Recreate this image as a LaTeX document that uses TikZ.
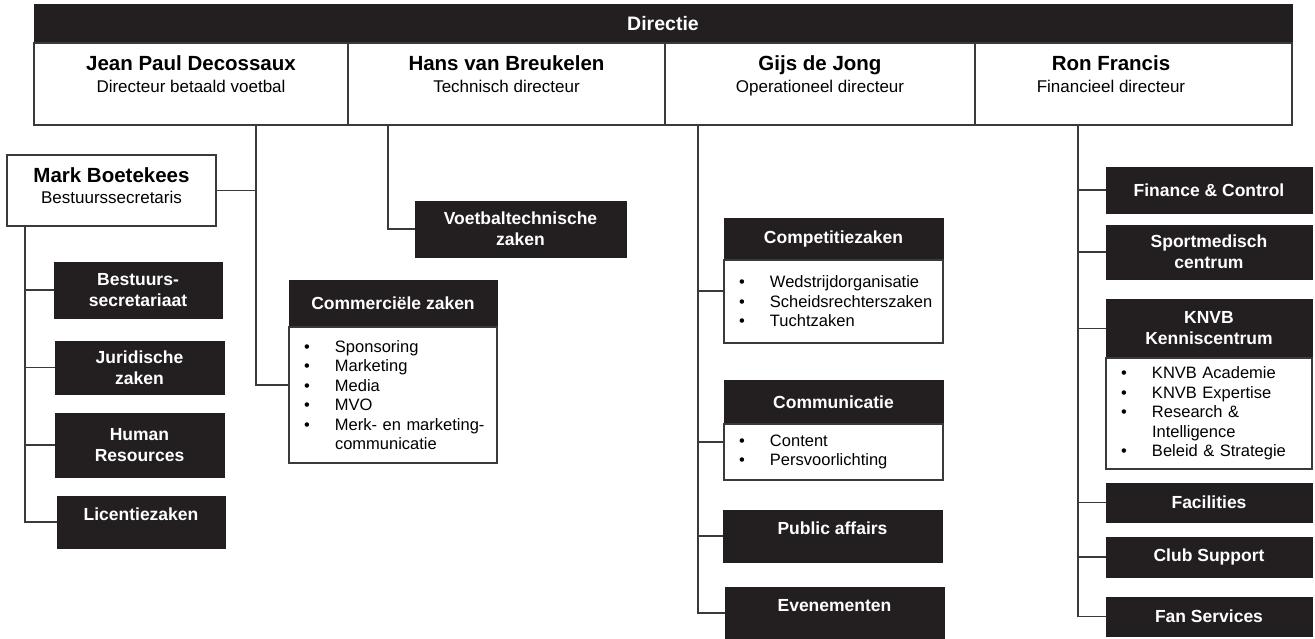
\documentclass[tikz,border=0pt]{standalone}
\usepackage{fontspec}
\setmainfont{Liberation Sans}
\definecolor{blk}{HTML}{231F20}
\definecolor{ln}{HTML}{3A3A3A}
\newcommand\bxat[7]{\node[#1, minimum width={#5-#3}, minimum height={#6-#4}] (#2) at ({(#3+#5)/2},{(#4+#6)/2}) {#7};}
\newcommand\lstat[6]{\pgfmathsetmacro\lw{#4-#2}%
  \node[lbox, minimum width=\lw pt, minimum height={#5-#3}, text width=\lw pt] (#1) at ({(#2+#4)/2},{(#3+#5)/2}) {#6};}
\newcommand\itm[1]{\hspace*{15pt}\makebox[31pt][l]{\textbullet}#1}
\begin{document}
\begin{tikzpicture}[x=1pt,y=-1pt,
  blkbox/.style={fill=blk, draw=blk, line width=0.6pt, text=white, inner sep=0pt, align=center, font=\fontsize{17.5}{21}\selectfont\bfseries},
  blktxt/.style={text=white, inner sep=0pt, align=center, font=\fontsize{17.5}{21}\selectfont\bfseries},
  wbox/.style={draw=ln, line width=1.1pt, fill=white, inner sep=0pt, align=center},
  lbox/.style={draw=ln, line width=1.1pt, fill=white, inner sep=0pt, align=left, font=\fontsize{16.5}{19.5}\selectfont},
  nmtxt/.style={inner sep=0pt, anchor=base, font=\fontsize{20.5}{23}\selectfont\bfseries},
  sbtxt/.style={inner sep=0pt, anchor=base, font=\fontsize{17}{21}\selectfont},
  conn/.style={draw=ln, line width=1.2pt}]
\useasboundingbox (0,0) rectangle (1315,638);
% header
\bxat{blkbox, font=\fontsize{19.5}{22}\selectfont\bfseries}{dir}{34}{4}{1292}{43}{Directie}
\bxat{wbox}{jp}{34}{43}{348}{125}{}
\bxat{wbox}{hv}{348}{43}{665}{125}{}
\bxat{wbox}{gj}{665}{43}{975}{125}{}
\bxat{wbox}{rf}{975}{43}{1292}{125}{}
\node[nmtxt] (jpn) at (191,70.5) {Jean Paul Decossaux};
\node[sbtxt] (jps) at (191,92) {Directeur betaald voetbal};
\node[nmtxt] (hvn) at (506.5,70.5) {Hans van Breukelen};
\node[sbtxt] (hvs) at (506.5,92) {Technisch directeur};
\node[nmtxt] (gjn) at (820,70.5) {Gijs de Jong};
\node[sbtxt] (gjs) at (820,92) {Operationeel directeur};
\node[nmtxt] (rfn) at (1111,70.5) {Ron Francis};
\node[sbtxt] (rfs) at (1111,92) {Financieel directeur};
% Mark Boetekees
\bxat{wbox}{mb}{7}{155}{216}{226}{}
\node[nmtxt] (mbn) at (111.5,182.5) {Mark Boetekees};
\node[sbtxt] (mbs) at (111.5,203.5) {Bestuurssecretaris};
\bxat{blkbox}{bs}{54}{262}{222}{318}{Bestuurs-\\secretariaat}
\bxat{blkbox}{jz}{55}{341}{224}{394}{Juridische\\zaken}
\bxat{blkbox}{hr}{55}{413}{224}{477}{Human\\Resources}
\bxat{blkbox}{lc}{57}{496}{225}{548}{}
\node[blktxt] (lct) at ([yshift=-19pt]lc.north) {Licentiezaken};
% technisch
\bxat{blkbox}{vt}{415}{201}{626}{257}{Voetbaltechnische\\zaken}
% commercieel
\bxat{blkbox}{cmh}{289}{280}{497}{327}{Commerciële zaken}
\lstat{cml}{289}{327}{497}{463}{\itm{Sponsoring}\\\itm{Marketing}\\\itm{Media}\\\itm{MVO}\\\itm{Merk- en marketing-}\\\hspace*{46pt}communicatie}
% operationeel
\bxat{blkbox}{cph}{724}{218}{943}{260}{Competitiezaken}
\lstat{cpl}{724}{260}{943}{343}{\itm{Wedstrijdorganisatie}\\\itm{Scheidsrechterszaken}\\\itm{Tuchtzaken}}
\bxat{blkbox}{coh}{724}{380}{943}{424}{Communicatie}
\lstat{col}{724}{424}{943}{480}{\itm{Content}\\\itm{Persvoorlichting}}
\bxat{blkbox}{pa}{723}{510}{942}{562}{}
\node[blktxt] (pat) at ([yshift=-19pt]pa.north) {Public affairs};
\bxat{blkbox}{ev}{725}{587}{944}{639}{}
\node[blktxt] (evt) at ([yshift=-19pt]ev.north) {Evenementen};
% financieel
\bxat{blkbox}{fc}{1106}{167}{1312}{213}{Finance \& Control}
\bxat{blkbox}{sm}{1106}{225}{1312}{279}{Sportmedisch\\centrum}
\bxat{blkbox}{knh}{1106}{299}{1312}{358}{KNVB\\Kenniscentrum}
\lstat{knl}{1106}{358}{1312}{469}{\itm{KNVB Academie}\\\itm{KNVB Expertise}\\\itm{Research \&}\\\hspace*{46pt}Intelligence\\\itm{Beleid \& Strategie}}
\bxat{blkbox}{fa}{1106}{483}{1312}{522}{Facilities}
\bxat{blkbox}{cs}{1106}{537}{1312}{577}{Club Support}
\bxat{blkbox}{fs}{1106}{597}{1312}{636}{Fan Services}
% trunks
\coordinate (jpT) at ([xshift=65pt]jp.south);
\coordinate (hvT) at ([xshift=-118.5pt]hv.south);
\coordinate (gjT) at ([xshift=-122pt]gj.south);
\coordinate (rfT) at ([xshift=-55.5pt]rf.south);
\coordinate (mbT) at ([xshift=-86.5pt]mb.south);
% connectors
\draw[conn] (jpT) |- ([yshift=10pt]cml.west);
\draw[conn] (jpT |- mb.east) -- (mb.east);
\draw[conn] (mbT) |- (bs.west);
\draw[conn] (mbT) |- (jz.west);
\draw[conn] (mbT) |- (hr.west);
\draw[conn] (mbT) |- (lc.west);
\draw[conn] (hvT) |- (vt.west);
\draw[conn] (gjT) |- ([yshift=10.5pt]cpl.west);
\draw[conn] (gjT) |- ([yshift=10pt]col.west);
\draw[conn] (gjT) |- (pa.west);
\draw[conn] (gjT) |- (ev.west);
\draw[conn] (rfT) |- (fc.west);
\draw[conn] (rfT) |- (sm.west);
\draw[conn] (rfT) |- (knh.west);
\draw[conn] (rfT) |- (fa.west);
\draw[conn] (rfT) |- (cs.west);
\draw[conn] (rfT) |- (fs.west);
\end{tikzpicture}
\end{document}
